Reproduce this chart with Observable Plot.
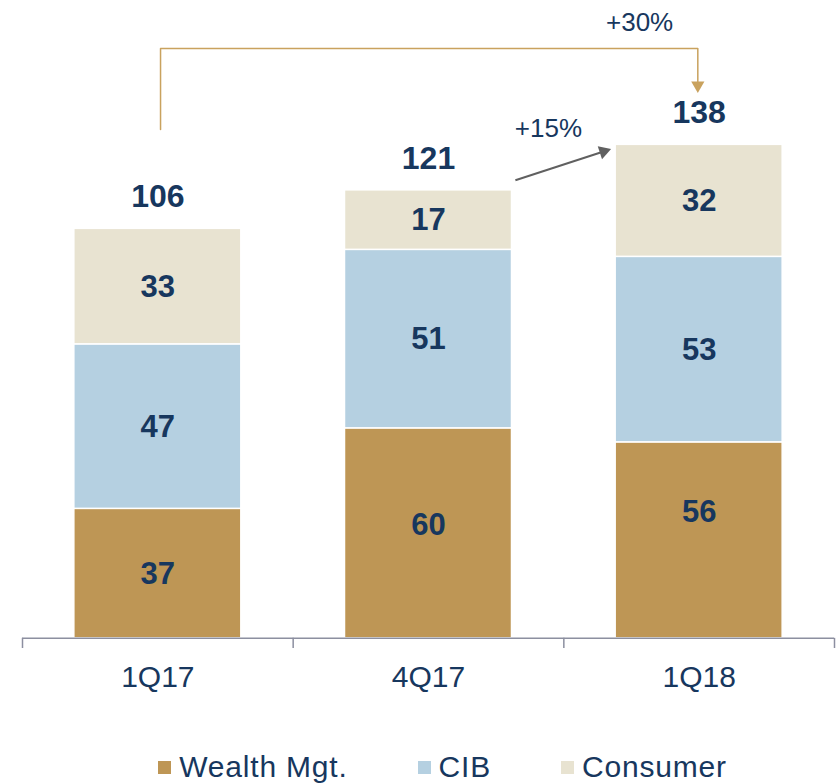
<!DOCTYPE html>
<html><head><meta charset="utf-8">
<script src="https://cdn.jsdelivr.net/npm/d3@7"></script>
<script src="https://cdn.jsdelivr.net/npm/@observablehq/plot@0.6"></script>
<style>
body{margin:0;background:#fff;}
#wrap{position:relative;width:839px;height:783px;overflow:hidden;}
#legend{position:absolute;top:750px;left:23px;width:839px;display:flex;justify-content:center;align-items:center;gap:70px;
  font-family:"Liberation Sans",sans-serif;font-size:30px;letter-spacing:0.8px;color:#17375E;}
#legend .item{display:flex;align-items:center;gap:8px;}
#legend .sw{width:13px;height:13px;display:inline-block;}
</style></head><body><div id="wrap"><div id="chart"></div><div id="legend"></div></div>
<script>
const categories = ["1Q17", "4Q17", "1Q18"];
const wealthMgt = [37, 60, 56];
const cib = [47, 51, 53];
const consumer = [33, 17, 32];
const totals = [106, 121, 138];
const seriesNames = ["Wealth Mgt.", "CIB", "Consumer"];
const seriesColors = ["#BE9655", "#B5D0E1", "#E8E3D1"];
const growthLabels = ["+30%", "+15%"];

const navy = "#17375E";
const fontNum = "'Liberation Sans',sans-serif";
const half = 0.3085;
// label placement nudges (in value units) for the bottom segment, as in the original slide
const wealthLabelNudge = [0, 2.3, 8];

const series = [wealthMgt, cib, consumer];
const rows = [];
categories.forEach((c, i) => {
  let base = 0;
  series.forEach((arr, k) => {
    const nudge = k === 0 ? wealthLabelNudge[i] : 0;
    rows.push({i, cat: c, series: seriesNames[k], y1: base, y2: base + arr[i], v: arr[i], ly: base + arr[i] / 2 + nudge});
    base += arr[i];
  });
});
const tops = categories.map((c, i) => ({i, top: wealthMgt[i] + cib[i] + consumer[i], total: totals[i]}));

// annotation geometry in data units
const bracket = [{x: 0.01, y: 145.4}, {x: 0.01, y: 168.5}, {x: 1.995, y: 168.5}, {x: 1.995, y: 159}];
const grayArrow = {x1: 1.321, y1: 130.9, x2: 1.647, y2: 139.1};

const chart = Plot.plot({
  width: 839, height: 740,
  marginLeft: 22, marginRight: 5, marginTop: 0, marginBottom: 92,
  x: {domain: [-0.5, 2.5], axis: null},
  y: {domain: [-2.9, 182.24], axis: null},
  color: {domain: seriesNames, range: seriesColors},
  style: {fontFamily: fontNum},
  marks: [
    Plot.rectY(rows, {x1: d => d.i - half, x2: d => d.i + half, y1: "y1", y2: "y2", fill: "series", stroke: "white", strokeWidth: 1.5}),
    Plot.ruleY([0], {stroke: "#8C8FA0", strokeWidth: 1.5}),
    Plot.ruleX([-0.5, 0.5, 1.5, 2.5], {y1: 0, y2: -2.9, stroke: "#8C8FA0", strokeWidth: 1.5}),
    Plot.text(categories, {x: (d, i) => i, y: -2.9, dy: 29, text: d => d, fontSize: 30, fill: navy, fontWeight: 400}),
    Plot.text(rows, {x: "i", y: "ly", text: "v", fontSize: 31, fontWeight: "bold", fill: navy}),
    Plot.text(tops, {x: "i", y: "top", dy: -32, text: "total", fontSize: 32, fontWeight: "bold", fill: navy}),
    Plot.line(bracket, {x: "x", y: "y", stroke: "#C9A25E", strokeWidth: 1.5}),
    Plot.dot([{x: 1.995, y: 158}], {x: "x", y: "y", symbol: "triangle2", r: 6.3, rotate: 180, fill: "#C9A25E", stroke: null}),
    Plot.link([grayArrow], {x1: "x1", y1: "y1", x2: "x2", y2: "y2", stroke: "#606060", strokeWidth: 2}),
    Plot.dot([grayArrow], {x: "x2", y: "y2", symbol: "triangle2", r: 6.5, rotate: 71.7, fill: "#606060", stroke: null}),
    Plot.text([growthLabels[0]], {x: 1.78, y: 176, text: d => d, fontSize: 26, fill: navy}),
    Plot.text([growthLabels[1]], {x: 1.443, y: 145.7, text: d => d, fontSize: 26, fill: navy})
  ]
});
document.getElementById("chart").appendChild(chart);

const legend = document.getElementById("legend");
seriesNames.forEach((n, k) => {
  const item = document.createElement("div");
  item.className = "item";
  const sw = document.createElement("span");
  sw.className = "sw";
  sw.style.background = seriesColors[k];
  const t = document.createElement("span");
  t.textContent = n;
  item.appendChild(sw); item.appendChild(t);
  legend.appendChild(item);
});
</script></body></html>
